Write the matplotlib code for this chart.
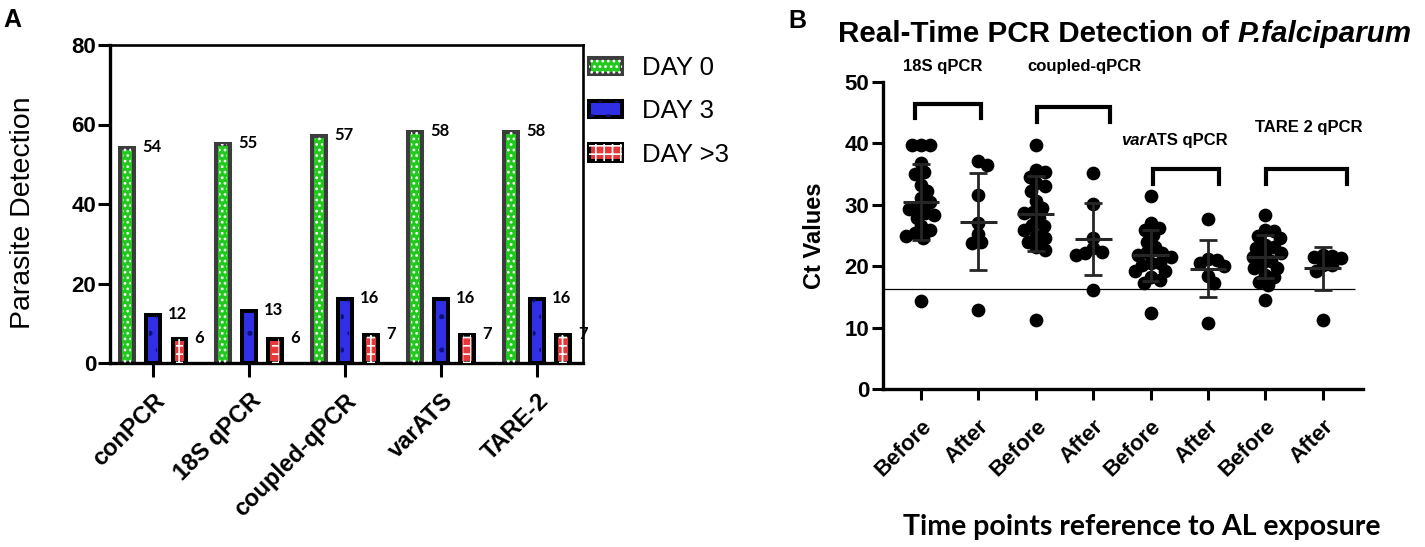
import matplotlib
matplotlib.use('Agg')
import matplotlib.pyplot as plt
import numpy as np
from matplotlib.patches import Patch
from matplotlib.legend_handler import HandlerTuple

# ---------------- data ----------------
categories = ['conPCR', '18S qPCR', 'coupled-qPCR', 'varATS', 'TARE-2']
day0 = [54, 55, 57, 58, 58]
day3 = [12, 13, 16, 16, 16]
day_gt3 = [6, 6, 7, 7, 7]
legend_labels = ['DAY 0', 'DAY 3', 'DAY >3']

time_labels = ['Before', 'After', 'Before', 'After', 'Before', 'After', 'Before', 'After']
before_18s = [39.8, 39.8, 39.8, 36.8, 35.4, 35.0, 33.3, 32.2, 31.1, 30.5, 29.7, 29.3, 28.7,
              28.4, 27.9, 26.5, 25.9, 25.4, 24.6, 24.9, 14.3]
after_18s = [37.1, 36.5, 31.6, 27.1, 25.3, 23.8, 23.9, 12.9]
before_coupled = [39.8, 35.7, 35.4, 34.6, 33.5, 33.0, 32.2, 30.6, 28.9, 29.5, 28.7, 27.8, 26.5,
                  26.8, 25.9, 24.0, 24.6, 24.9, 22.7, 23.2, 11.3]
after_coupled = [35.2, 30.2, 24.6, 22.4, 21.9, 22.2, 23.0, 16.2]
before_varats = [31.5, 27.0, 26.2, 25.9, 25.1, 24.0, 23.2, 22.4, 21.9, 21.6, 22.2, 20.5, 20.2,
                 20.5, 19.2, 19.2, 18.3, 17.8, 17.3, 12.4]
after_varats = [27.7, 21.2, 21.1, 20.5, 20.1, 18.5, 17.3, 10.8]
before_tare = [28.4, 25.9, 25.7, 24.9, 24.6, 23.2, 23.5, 23.0, 21.9, 22.2, 21.6, 20.8, 20.5,
               19.7, 19.7, 18.6, 18.3, 17.5, 17.0, 14.5]
after_tare = [21.9, 21.7, 21.5, 21.3, 20.2, 20.2, 19.2, 11.3]
threshold = 16.3

# ---------------- setup ----------------
plt.rcParams['font.family'] = ['Liberation Sans', 'DejaVu Sans']
plt.rcParams['hatch.linewidth'] = 1.2
W, H = 1425, 547
fig = plt.figure(figsize=(W / 100, H / 100), dpi=100)
renderer = fig.canvas.get_renderer()

GREEN, BLUE, RED = '#22c81e', '#2f2fe6', '#e8383a'

# ---------------- panel A ----------------
axA = fig.add_axes([110 / W, 1 - 363 / H, 473 / W, 318 / H])
x = np.arange(len(categories))
off, bw = 0.272, 0.14
specs = [(day0, -off, GREEN, '#3c3c3c', 'white', '...'),
         (day3, 0.0, BLUE, 'black', '#101070', '.'),
         (day_gt3, off, RED, 'black', 'white', '++')]
handles = []
for vals, o, fc, ec, hc, hatch in specs:
    axA.bar(x + o, vals, bw, color=fc, edgecolor=ec, linewidth=2.9, zorder=2)
    axA.bar(x + o, vals, bw * 0.55, color='none', edgecolor=hc, hatch=hatch, linewidth=0, zorder=3)
    for xi, v in zip(x, vals):
        axA.annotate(str(v), xy=(xi + o + bw / 2, v), xytext=(6, 1), textcoords='offset points',
                     ha='left', va='center', fontsize=12, fontweight='bold', family='Lato')
    handles.append((Patch(facecolor=fc, edgecolor=ec, linewidth=2.9),
                    Patch(facecolor='none', edgecolor=hc, hatch=hatch, linewidth=0)))

axA.set_xlim(-0.45, 4.48)
axA.set_ylim(0, 80)
axA.set_yticks([0, 20, 40, 60, 80])
axA.set_xticks(x)
axA.set_xticklabels(categories, rotation=45, ha='right', va='top', rotation_mode='anchor',
                    fontsize=17, fontweight='bold')
for lab in axA.get_yticklabels():
    lab.set_fontweight('bold')
axA.tick_params(axis='y', labelsize=16, width=2.2, length=9, pad=1)
axA.tick_params(axis='x', width=2.2, length=10, pad=9)
for s in ['left', 'bottom']:
    axA.spines[s].set_linewidth(2.4)
for s in ['top', 'right']:
    axA.spines[s].set_linewidth(1.9)
fig.text(23 / W, 1 - 213 / H, 'Parasite Detection', rotation=90, ha='center', va='center', fontsize=20.5)

fig.legend(handles, legend_labels, loc='upper left', bbox_to_anchor=(589 / W, 1 - 56 / H),
           frameon=False, fontsize=18.5, handlelength=1.3, handleheight=0.6,
           handletextpad=0.75, labelspacing=0.75, borderpad=0, borderaxespad=0,
           handler_map={tuple: HandlerTuple(ndivide=1)})

fig.text(3 / W, 1 - 20 / H, 'A', fontsize=18, fontweight='bold', va='center', ha='left')

# ---------------- panel B ----------------
axB = fig.add_axes([883 / W, 1 - 389.3 / H, 480 / W, 307.3 / H])
xlim = (-0.66, 7.70)
axB.set_xlim(*xlim)
axB.set_ylim(0, 50)
sx = 480 / (xlim[1] - xlim[0])
sy = 307.3 / 50.0
groups = [before_18s, after_18s, before_coupled, after_coupled,
          before_varats, after_varats, before_tare, after_tare]


def swarm(vals, d_px):
    vals = np.asarray(vals, float)
    placed = []
    offs = np.zeros(len(vals))
    cands = [0] + [s * k for k in range(1, 60) for s in (1, -1)]
    for i in np.argsort(-vals):
        yv = vals[i] * sy
        for c in cands:
            if all((c - px) ** 2 + (yv - py) ** 2 >= d_px ** 2 for px, py in placed):
                break
        placed.append((c, yv))
        offs[i] = c / sx
    return offs


for gi, g in enumerate(groups):
    offs = swarm(g, 9.0)
    axB.scatter(gi + offs, g, s=98, color='black', linewidths=0, zorder=3)
    m = np.mean(g)
    sd = np.std(g, ddof=1)
    axB.hlines(m, gi - 0.32, gi + 0.32, color='#262626', linewidth=2.2, zorder=4)
    axB.vlines(gi, m - sd, m + sd, color='#262626', linewidth=2.0, zorder=4)
    axB.hlines([m - sd, m + sd], gi - 0.155, gi + 0.155, color='#262626', linewidth=2.0, zorder=4)

axB.hlines(threshold, xlim[0], 7.56, color='black', linewidth=0.9, zorder=2)

axB.set_xticks(np.arange(len(time_labels)))
axB.set_xticklabels(time_labels, rotation=45, ha='right', va='top', rotation_mode='anchor',
                    fontsize=16, fontweight='bold')
axB.set_yticks([0, 10, 20, 30, 40, 50])
for lab in axB.get_yticklabels():
    lab.set_fontweight('bold')
axB.tick_params(axis='y', labelsize=16, width=2.2, length=8, pad=2)
axB.tick_params(axis='x', width=2.2, length=8, pad=11)
for s in ['top', 'right']:
    axB.spines[s].set_visible(False)
for s in ['left', 'bottom']:
    axB.spines[s].set_linewidth(2.4)

fig.text(814 / W, 1 - 236 / H, 'Ct Values', rotation=90, ha='center', va='center',
         fontsize=17, fontweight='bold')

# brackets
brackets = [(-0.10, 1.045, 46.5, 44.2), (2.02, 3.29, 46.0, 43.5),
            (4.04, 5.19, 35.9, 33.4), (6.01, 7.42, 35.9, 33.4)]
for x0, x1, ytop, ybot in brackets:
    axB.plot([x0, x0, x1, x1], [ybot, ytop, ytop, ybot], color='black', linewidth=3.0,
             solid_joinstyle='miter', clip_on=False, zorder=5)


def mixed(parts, x_px, y_px, size, ha='center'):
    """parts: list of (string, style); x_px,y_px in figure pixels from top-left (baseline)."""
    texts = []
    widths = []
    for s, style in parts:
        t = fig.text(0, 0, s, fontsize=size, fontweight='bold', fontstyle=style,
                     ha='left', va='baseline')
        texts.append(t)
        widths.append(t.get_window_extent(renderer).width)
    total = sum(widths)
    cur = x_px - total / 2 if ha == 'center' else x_px
    for t, w in zip(texts, widths):
        t.set_position((cur / W, 1 - y_px / H))
        cur += w
    return texts


def data_to_px(xd, yd):
    disp = axB.transData.transform((xd, yd))
    return disp[0], H - disp[1]


assay_labels = [[('18S qPCR', 'normal')], [('coupled-qPCR', 'normal')],
                [('var', 'italic'), ('ATS qPCR', 'normal')], [('TARE 2 qPCR', 'normal')]]
label_pos = [(0.38, 51.8), (2.84, 51.8), (4.41, 39.8), (6.76, 41.9)]
for parts, (xd, yd) in zip(assay_labels, label_pos):
    px, py = data_to_px(xd, yd)
    mixed(parts, px, py, 12)

mixed([('Real-Time PCR Detection of ', 'normal'), ('P.falciparum', 'italic')], 838, 42, 21.3, ha='left')
fig.text(788 / W, 1 - 21 / H, 'B', fontsize=18, fontweight='bold', va='center', ha='left')

fig.text(1142 / W, 1 - 527 / H, 'Time points reference to AL exposure', ha='center', va='center',
         fontsize=20.5, fontweight='bold', family='Lato')

fig.savefig('out.png', dpi=100)
